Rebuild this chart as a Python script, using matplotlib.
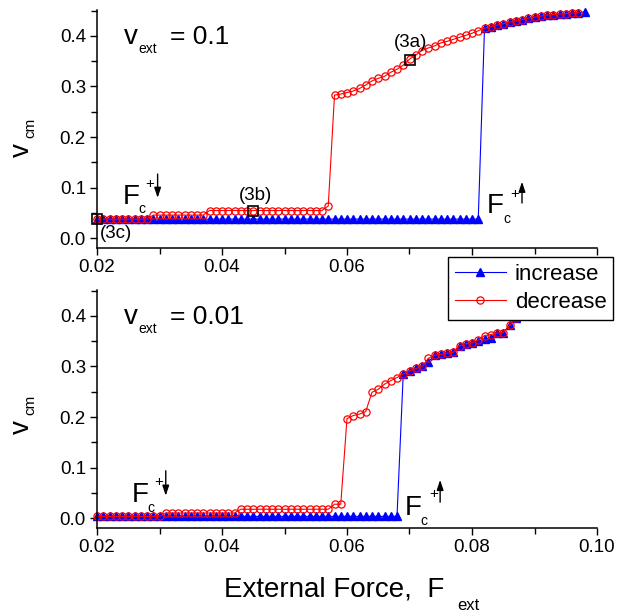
import numpy as np
import matplotlib
matplotlib.use('Agg')
import matplotlib.pyplot as plt
from matplotlib.ticker import MultipleLocator, FormatStrFormatter

plt.rcParams['font.family'] = ['Liberation Sans', 'DejaVu Sans']

# ---- data ----
# v_ext = 0.1 (top panel)
force_top_inc = np.round(np.arange(20, 99) / 1000, 3)   # 0.020 .. 0.098
vcm_top_inc = [0.038] * 62 + [0.415, 0.418, 0.421, 0.424, 0.427, 0.430, 0.432, 0.435,
                              0.437, 0.439, 0.441, 0.442, 0.443, 0.444, 0.445, 0.446, 0.447]
force_top_dec = np.round(np.arange(20, 98) / 1000, 3)   # 0.020 .. 0.097
vcm_top_dec = ([0.038] * 9 + [0.046] * 9 + [0.055] * 19 + [0.064] +
               [0.283, 0.285, 0.288, 0.291, 0.296, 0.303, 0.311, 0.316, 0.320, 0.328,
                0.334, 0.342, 0.354, 0.362, 0.371, 0.376, 0.380, 0.386, 0.389, 0.393,
                0.397, 0.401, 0.405, 0.410, 0.415] +
               [0.418, 0.421, 0.424, 0.427, 0.430, 0.432, 0.435, 0.437, 0.439, 0.441,
                0.442, 0.443, 0.444, 0.445, 0.446])

# v_ext = 0.01 (bottom panel)
force_bot = np.round(np.arange(20, 91) / 1000, 3)       # 0.020 .. 0.090
vcm_bot_inc = [0.004] * 49 + [0.285, 0.291, 0.296, 0.300, 0.309, 0.322, 0.324, 0.326,
                              0.328, 0.341, 0.345, 0.347, 0.350, 0.354, 0.356, 0.366,
                              0.367, 0.381, 0.395, 0.410, 0.425, 0.440]
vcm_bot_dec = ([0.004] * 11 + [0.0105] * 12 + [0.018] * 15 + [0.028, 0.028] +
               [0.197, 0.203, 0.206, 0.211, 0.249, 0.255, 0.265, 0.272, 0.278] +
               [0.285, 0.291, 0.296, 0.300, 0.316, 0.322, 0.324, 0.326, 0.328, 0.341,
                0.345, 0.347, 0.352, 0.361, 0.363, 0.366, 0.367, 0.381, 0.395, 0.410,
                0.425, 0.440])

# marked states (3a), (3b), (3c)
mark_x = [0.070, 0.045, 0.020]
mark_y = [0.352, 0.055, 0.039]
mark_labels = ['(3a)', '(3b)', '(3c)']

blue = '#0000ff'
red = '#ff0000'

fig = plt.figure(figsize=(6.32, 6.14), dpi=100)
ax1 = fig.add_axes([97/632, 1 - 248/614, 500/632, 238/614])
ax2 = fig.add_axes([97/632, 1 - 528/614, 500/632, 238/614])

for ax, fi, vi, fd, vd in [(ax1, force_top_inc, vcm_top_inc, force_top_dec, vcm_top_dec),
                           (ax2, force_bot, vcm_bot_inc, force_bot, vcm_bot_dec)]:
    l1, = ax.plot(fi, vi, '-^', color=blue, lw=0.8, ms=5.5, mfc=blue, mec=blue,
                  label='increase', clip_on=False)
    l2, = ax.plot(fd, vd, '-o', color=red, lw=0.8, ms=5.2, mfc='none', mec=red,
                  mew=0.9, label='decrease', clip_on=False)
    ax.set_xlim(0.02, 0.10)
    ax.set_ylim(-0.019, 0.451)
    ax.xaxis.set_major_locator(MultipleLocator(0.02))
    ax.xaxis.set_minor_locator(MultipleLocator(0.01))
    ax.yaxis.set_major_locator(MultipleLocator(0.1))
    ax.yaxis.set_minor_locator(MultipleLocator(0.05))
    ax.xaxis.set_major_formatter(FormatStrFormatter('%.2f'))
    ax.yaxis.set_major_formatter(FormatStrFormatter('%.1f'))
    ax.tick_params(which='major', length=5, width=1, labelsize=13.5, direction='out', pad=3)
    ax.tick_params(which='minor', length=4, width=1, direction='out')
    ax.spines['top'].set_visible(False)
    ax.spines['right'].set_visible(False)
    for s in ['left', 'bottom']:
        ax.spines[s].set_linewidth(1.1)

ax1.plot(mark_x, mark_y, 's', mfc='none', mec='black', ms=7.5, mew=1.2, clip_on=False)
ax1.text(0.0702, 0.386, mark_labels[0], fontsize=13.5, ha='center', va='center')
ax1.text(0.0454, 0.0856, mark_labels[1], fontsize=13.5, ha='center', va='center')
ax1.text(0.0230, 0.0105, mark_labels[2], fontsize=13.5, ha='center', va='center')


def base(ax, x, y, s, size):
    ax.text(x, y, s, fontsize=size, ha='left', va='baseline')


def arrow(ax, x, y0, y1):
    ax.annotate('', xy=(x, y1), xytext=(x, y0), annotation_clip=False,
                arrowprops=dict(arrowstyle='-|>,head_length=0.6,head_width=0.2',
                                color='black', lw=1, shrinkA=0, shrinkB=0))


# v_ext labels
for ax, val in [(ax1, '= 0.1'), (ax2, '= 0.01')]:
    base(ax, 0.0243, 0.384, 'v', 20)
    base(ax, 0.0266, 0.3656, 'ext', 10)
    base(ax, 0.0317, 0.384, val, 19)

# Fc+ arrows, top panel
base(ax1, 0.0241, 0.068, 'F', 20)
base(ax1, 0.0266, 0.050, 'c', 10)
ax1.text(0.0285, 0.1073, '+', fontsize=11, ha='center', va='center')
arrow(ax1, 0.0297, 0.127, 0.080)
base(ax1, 0.0823, 0.050, 'F', 20)
base(ax1, 0.0850, 0.0303, 'c', 10)
ax1.text(0.0869, 0.0876, '+', fontsize=11, ha='center', va='center')
arrow(ax1, 0.0880, 0.0698, 0.1119)

# Fc+ arrows, bottom panel
base(ax2, 0.0255, 0.0322, 'F', 20)
base(ax2, 0.0280, 0.0125, 'c', 10)
ax2.text(0.0298, 0.0727, '+', fontsize=11, ha='center', va='center')
arrow(ax2, 0.0310, 0.094, 0.0447)
base(ax2, 0.0692, 0.0066, 'F', 20)
base(ax2, 0.0717, -0.0132, 'c', 10)
ax2.text(0.0738, 0.049, '+', fontsize=11, ha='center', va='center')
arrow(ax2, 0.0749, 0.032, 0.076)

# y labels
for yc in [150, 427]:
    fig.text(22/632, 1 - yc/614, 'v', fontsize=20, rotation=90, ha='center', va='center')
    fig.text(30/632, 1 - (yc - 22)/614, 'cm', fontsize=11, rotation=90, ha='center', va='center')

# x label
fig.text(444/632, 1 - 597/614, 'External Force,  F', fontsize=20, ha='right', va='baseline')
fig.text(457/632, 1 - 610/614, 'ext', fontsize=12, ha='left', va='baseline')

fig.legend([l1, l2], ['increase', 'decrease'], loc='upper left',
           bbox_to_anchor=(448/632, 1 - 257/614), borderaxespad=0, fontsize=16,
           fancybox=False, edgecolor='black', framealpha=1, handlelength=2.3,
           handletextpad=0.4, labelspacing=0.34, borderpad=0.3)

fig.savefig('out.png', dpi=100)
